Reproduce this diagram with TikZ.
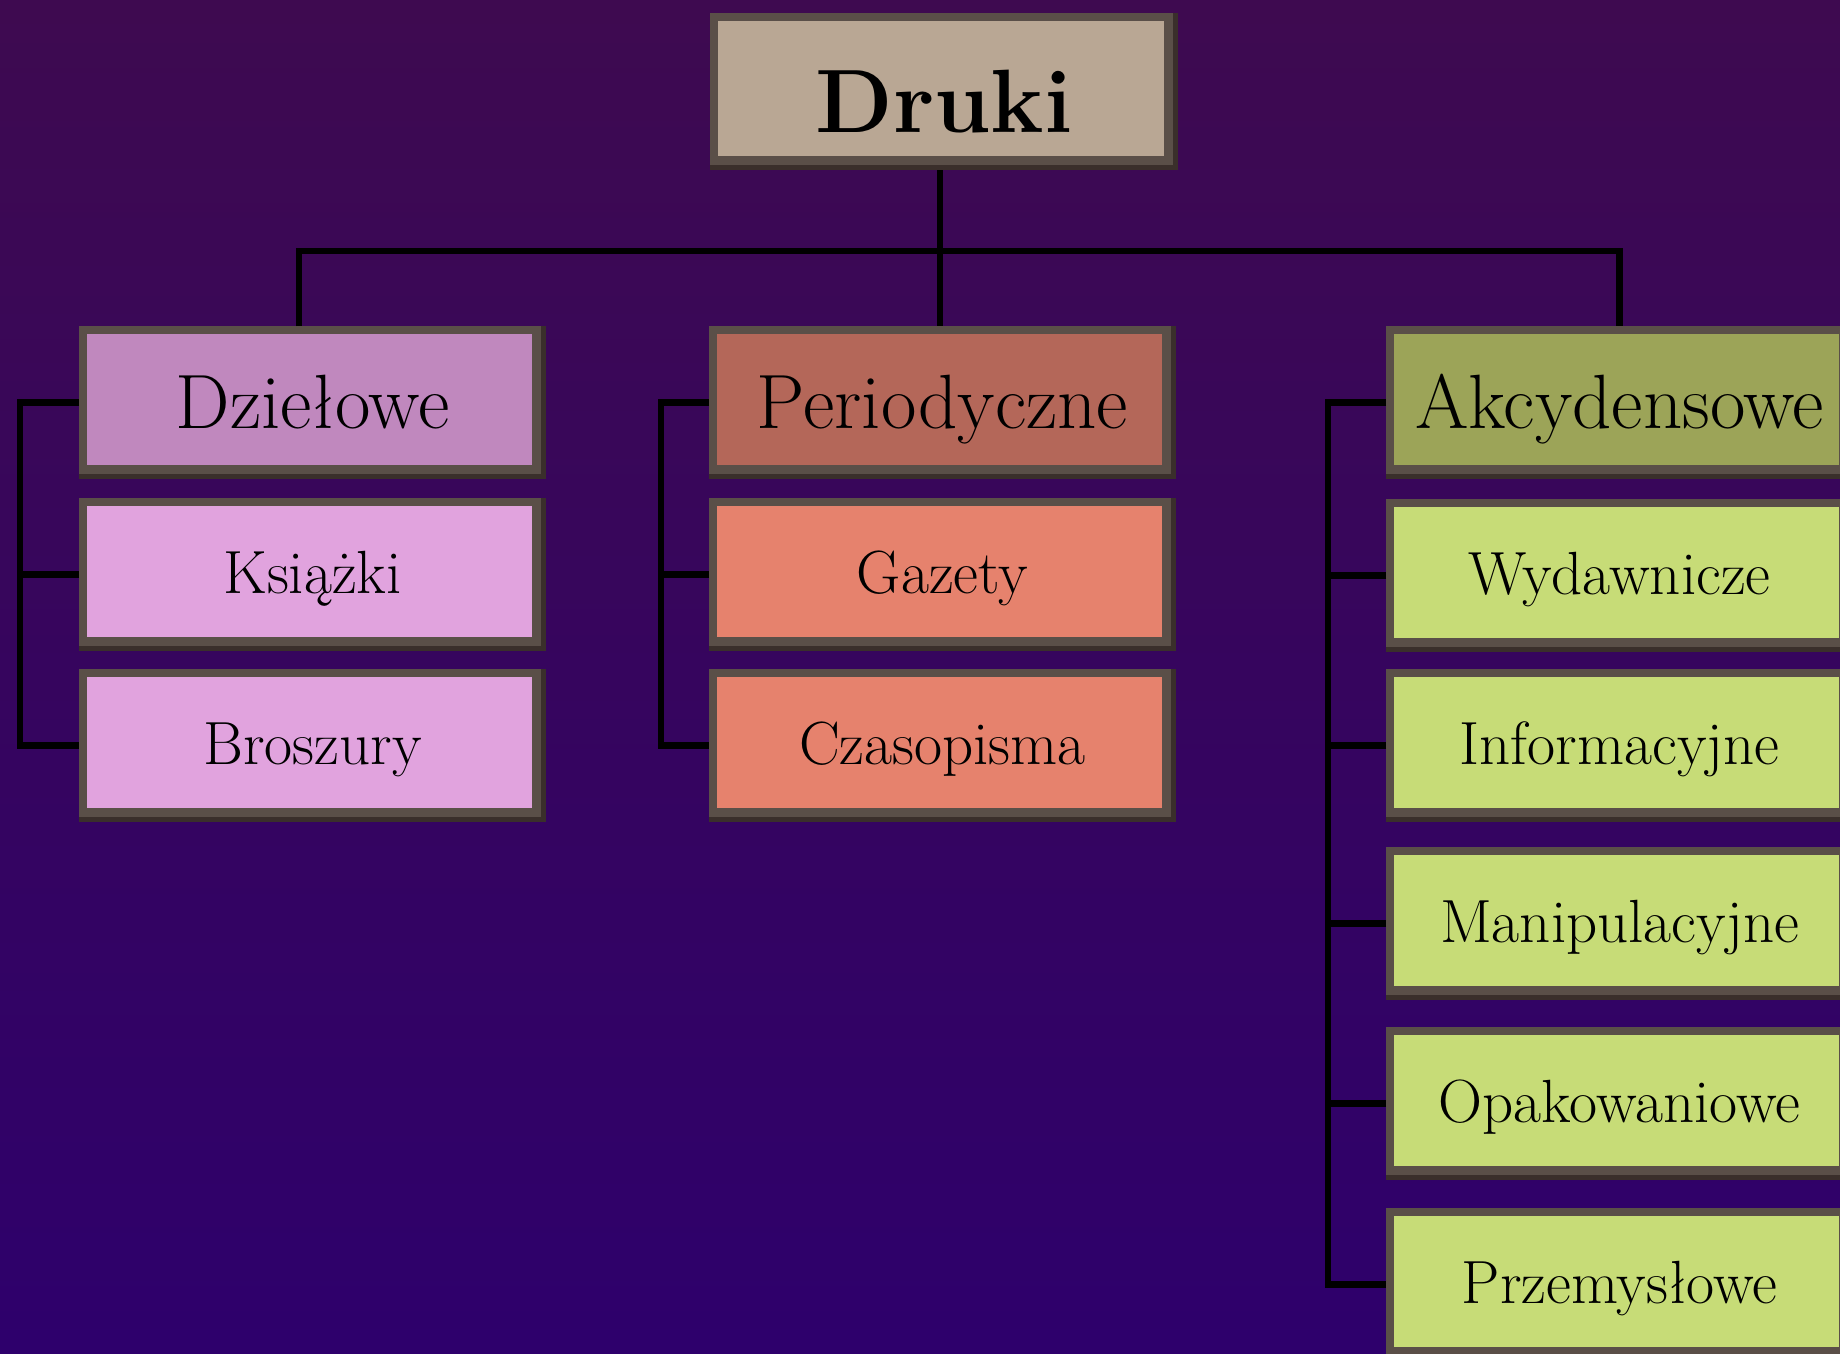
\documentclass[tikz,border=0pt]{standalone}
\usepackage{fontspec}
\usetikzlibrary{calc}
\definecolor{bgtop}{RGB}{62,10,80}
\definecolor{bgbot}{RGB}{46,0,108}
\definecolor{framec}{RGB}{90,79,72}
\definecolor{framed}{RGB}{58,47,43}
\definecolor{drukic}{RGB}{185,167,148}
\definecolor{dzielc}{RGB}{192,136,190}
\definecolor{dzielsub}{RGB}{225,163,222}
\definecolor{periodc}{RGB}{180,103,89}
\definecolor{periodsub}{RGB}{230,130,109}
\definecolor{akcyc}{RGB}{156,164,88}
\definecolor{akcysub}{RGB}{199,220,119}
\begin{document}
\begin{tikzpicture}[x=1pt,y=-1pt,
  bx/.style={rectangle, inner sep=0pt, outer sep=0pt,
    minimum width=467pt, minimum height=153pt, fill=framec, text=black,
    path picture={
      \fill[framed] ([yshift=5pt]path picture bounding box.south west) rectangle (path picture bounding box.south east);
      \fill[framed] ([xshift=-5pt]path picture bounding box.north east) rectangle (path picture bounding box.south east);
      \fill[#1] ([xshift=8pt,yshift=-8pt]path picture bounding box.north west) rectangle ([xshift=-14pt,yshift=14pt]path picture bounding box.south east);
    }},
  topbox/.style={bx=#1, minimum width=468pt, minimum height=157pt,
    font=\fontsize{90}{92}\selectfont\bfseries, text height=81pt, text depth=0pt},
  mainbox/.style={bx=#1, font=\fontsize{77}{80}\selectfont, text height=52pt, text depth=0pt},
  subbox/.style={bx=#1, font=\fontsize{61}{64}\selectfont, text height=37pt, text depth=0pt},
  conn/.style={draw=black, line width=6.5pt, line join=miter}
]
\useasboundingbox (0,0) rectangle (1840,1353);
\begin{scope}
\clip (0,0) rectangle (1840,1353);
\shade[top color=bgtop, bottom color=bgbot] (0,0) rectangle (1840,1353);

% top
\node[topbox=drukic] (druki) at (944,91.5) {Druki};

% left column
\node[mainbox=dzielc] (dziel) at (312.5,402.5) {Dziełowe};
\node[subbox=dzielsub] (ksiaz) at (312.5,574.5) {Książki};
\node[subbox=dzielsub] (brosz) at (312.5,745.5) {Broszury};

% middle column
\node[mainbox=periodc] (perio) at (942.5,402.5) {Periodyczne};
\node[subbox=periodsub] (gazet) at (942.5,574.5) {Gazety};
\node[subbox=periodsub] (czaso) at (942.5,745.5) {Czasopisma};

% right column
\node[mainbox=akcyc] (akcy) at (1619.5,402.5) {Akcydensowe};
\node[subbox=akcysub] (wydaw) at (1619.5,575.5) {Wydawnicze};
\node[subbox=akcysub] (infor) at (1619.5,745.5) {Informacyjne};
\node[subbox=akcysub] (manip) at (1619.5,923.5) {Manipulacyjne};
\node[subbox=akcysub] (opako) at (1619.5,1103.5) {Opakowaniowe};
\node[subbox=akcysub] (przem) at (1619.5,1284.5) {Przemysłowe};

% connectors from the top
\coordinate (bus) at (940,251);
\draw[conn] (druki.south -| bus) -- (perio.north -| bus);
\draw[conn] ([xshift=-13.5pt]dziel.north) |- (bus) -| (akcy.north);

% left bracket
\draw[conn] (dziel.west) -- ++(-59,0) |- (brosz.west);
\draw[conn] (ksiaz.west) -- ++(-59,0);

% middle bracket
\draw[conn] (perio.west) -- ++(-48,0) |- (czaso.west);
\draw[conn] (gazet.west) -- ++(-48,0);

% right bracket
\draw[conn] (akcy.west) -- ++(-58,0) |- (przem.west);
\draw[conn] (wydaw.west) -- ++(-58,0);
\draw[conn] (infor.west) -- ++(-58,0);
\draw[conn] (manip.west) -- ++(-58,0);
\draw[conn] (opako.west) -- ++(-58,0);
\end{scope}
\end{tikzpicture}
\end{document}
